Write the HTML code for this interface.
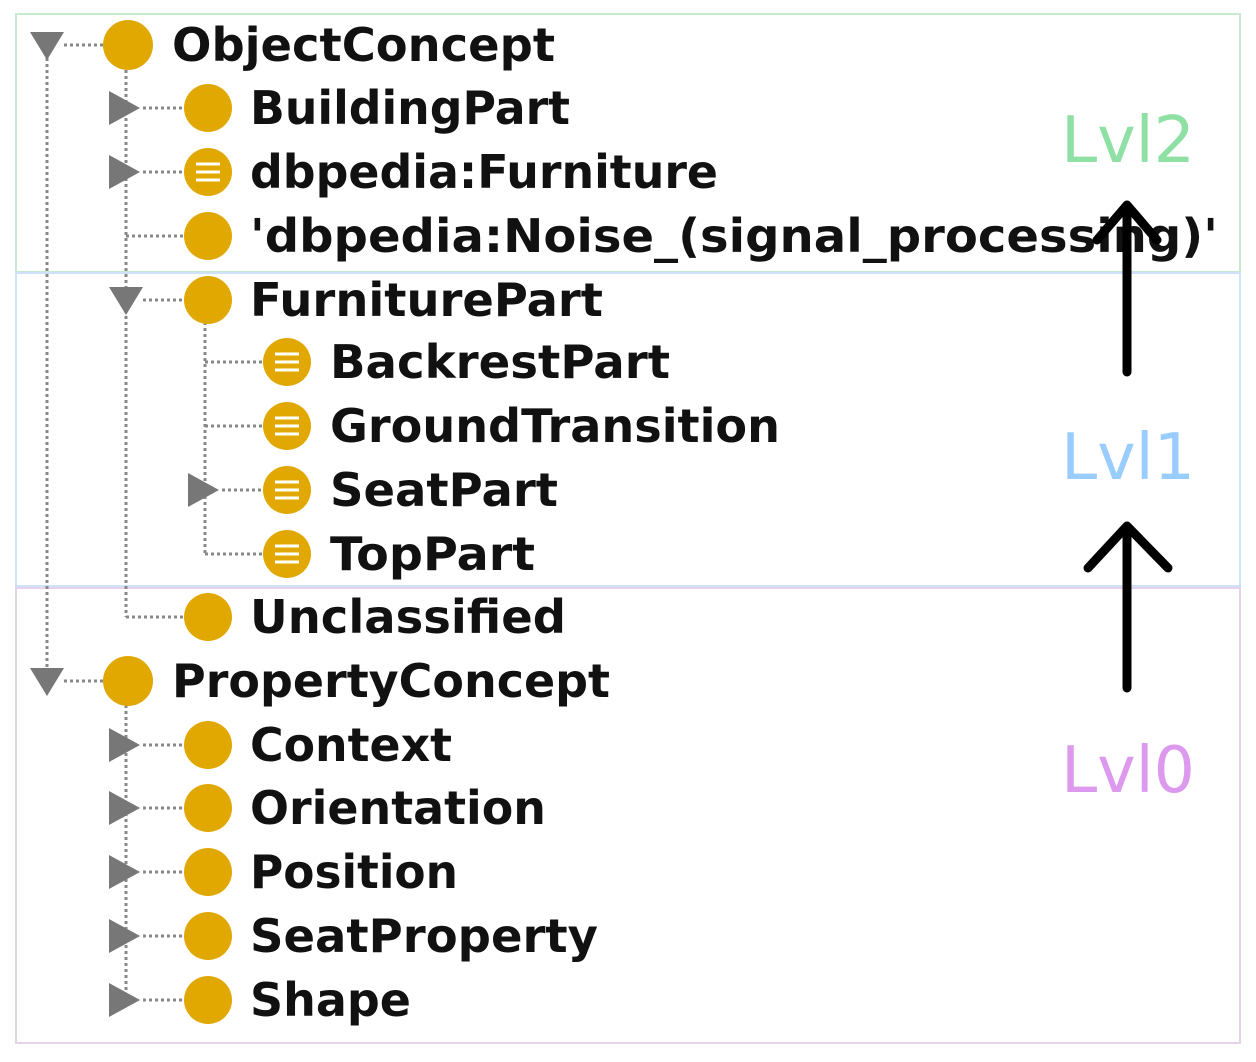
<!DOCTYPE html>
<html><head><meta charset="utf-8"><style>html,body{margin:0;padding:0;background:#fff}svg{display:block}</style></head><body>
<svg width="1256" height="1062" viewBox="0 0 1256 1062" xmlns="http://www.w3.org/2000/svg" font-family="'DejaVu Sans','Liberation Sans',sans-serif">
<rect x="16" y="14" width="1224" height="258" fill="none" stroke="#c6ead0" stroke-width="2"/>
<rect x="16" y="273" width="1224" height="313" fill="none" stroke="#cfe2fb" stroke-width="2"/>
<rect x="16" y="588" width="1224" height="455" fill="none" stroke="#e6d3ea" stroke-width="2"/>
<g stroke="#888" stroke-width="3" stroke-dasharray="3,3" fill="none">
<line x1="47" y1="58" x2="47" y2="670"/>
<line x1="126" y1="70" x2="126" y2="617"/>
<line x1="126" y1="705" x2="126" y2="1000"/>
<line x1="205" y1="322" x2="205" y2="554"/>
<path d="M64 45H104 M143 108H184 M143 172H184 M126 236H184 M143 300H184 M205 362H263 M205 426H263 M222 490H263 M205 554H263 M126 617H184 M64 681H104 M143 745H184 M143 808H184 M143 872H184 M143 936H184 M143 1000H184"/>
</g>
<g fill="#777">
<path d="M30 32H64L47 60Z"/><path d="M30 668H64L47 696Z"/><path d="M109 287H143L126 315Z"/>
<path d="M109 91V125L140 108Z"/><path d="M109 155V189L140 172Z"/><path d="M188 473V507L219 490Z"/>
<path d="M109 728V762L140 745Z"/><path d="M109 791V825L140 808Z"/><path d="M109 855V889L140 872Z"/><path d="M109 919V953L140 936Z"/><path d="M109 983V1017L140 1000Z"/>
</g>
<g fill="#e0a800">
<circle cx="128" cy="45" r="25"/><circle cx="208" cy="108" r="24"/><circle cx="208" cy="172" r="24"/><circle cx="208" cy="236" r="24"/><circle cx="208" cy="300" r="24"/>
<circle cx="287" cy="362" r="24"/><circle cx="287" cy="426" r="24"/><circle cx="287" cy="490" r="24"/><circle cx="287" cy="554" r="24"/>
<circle cx="208" cy="617" r="24"/><circle cx="128" cy="681" r="25"/>
<circle cx="208" cy="745" r="24"/><circle cx="208" cy="808" r="24"/><circle cx="208" cy="872" r="24"/><circle cx="208" cy="936" r="24"/><circle cx="208" cy="1000" r="24"/>
</g>
<g stroke="#fff" stroke-width="3">
<path d="M196 164H220M196 172H220M196 180H220"/>
<path d="M275 354H299M275 362H299M275 370H299"/>
<path d="M275 418H299M275 426H299M275 434H299"/>
<path d="M275 482H299M275 490H299M275 498H299"/>
<path d="M275 546H299M275 554H299M275 562H299"/>
</g>
<g font-weight="bold" font-size="46" fill="#111">
<text x="172" y="61" textLength="383" lengthAdjust="spacingAndGlyphs">ObjectConcept</text>
<text x="250" y="124" textLength="320" lengthAdjust="spacingAndGlyphs">BuildingPart</text>
<text x="250" y="188" textLength="468" lengthAdjust="spacingAndGlyphs">dbpedia:Furniture</text>
<text x="250" y="252" textLength="968" lengthAdjust="spacingAndGlyphs">'dbpedia:Noise_(signal_processing)'</text>
<text x="250" y="316" textLength="353" lengthAdjust="spacingAndGlyphs">FurniturePart</text>
<text x="330" y="378" textLength="340" lengthAdjust="spacingAndGlyphs">BackrestPart</text>
<text x="330" y="442" textLength="450" lengthAdjust="spacingAndGlyphs">GroundTransition</text>
<text x="330" y="506" textLength="228" lengthAdjust="spacingAndGlyphs">SeatPart</text>
<text x="330" y="570" textLength="205" lengthAdjust="spacingAndGlyphs">TopPart</text>
<text x="250" y="633" textLength="316" lengthAdjust="spacingAndGlyphs">Unclassified</text>
<text x="172" y="697" textLength="438" lengthAdjust="spacingAndGlyphs">PropertyConcept</text>
<text x="250" y="761" textLength="202" lengthAdjust="spacingAndGlyphs">Context</text>
<text x="250" y="824" textLength="296" lengthAdjust="spacingAndGlyphs">Orientation</text>
<text x="250" y="888" textLength="208" lengthAdjust="spacingAndGlyphs">Position</text>
<text x="250" y="952" textLength="348" lengthAdjust="spacingAndGlyphs">SeatProperty</text>
<text x="250" y="1016" textLength="161" lengthAdjust="spacingAndGlyphs">Shape</text>
</g>
<g font-size="64" text-anchor="middle">
<text x="1128" y="162" fill="#8fe0a4" textLength="134" lengthAdjust="spacingAndGlyphs">Lvl2</text>
<text x="1128" y="479" fill="#99ccff" textLength="134" lengthAdjust="spacingAndGlyphs">Lvl1</text>
<text x="1128" y="792" fill="#dd99ee" textLength="134" lengthAdjust="spacingAndGlyphs">Lvl0</text>
</g>
<g stroke="#000" stroke-width="9" stroke-linecap="round" stroke-linejoin="round" fill="none">
<path d="M1127 372V208 M1097 240L1127 205L1157 240"/>
<path d="M1127 688V528 M1088 568L1127 526L1168 568"/>
</g>
</svg>
</body></html>
